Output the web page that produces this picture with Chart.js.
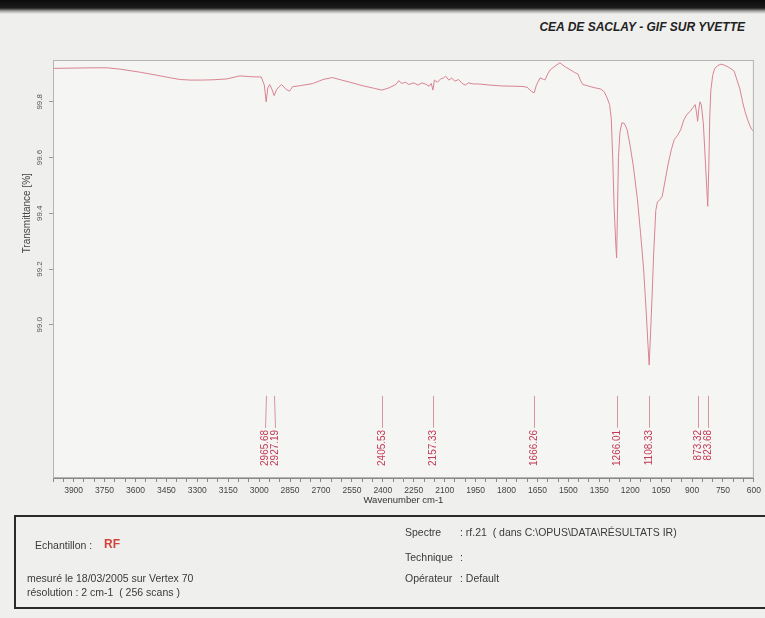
<!DOCTYPE html>
<html>
<head>
<meta charset="utf-8">
<script src="https://cdn.jsdelivr.net/npm/chart.js@4.4.0/dist/chart.umd.min.js"></script>
<style>
  html, body { margin: 0; padding: 0; }
  body {
    width: 765px; height: 618px; position: relative; overflow: hidden;
    background: #efefed; font-family: "Liberation Sans", Arial, sans-serif; color: #3a3a3a;
  }
  #scanTop {
    position: absolute; left: 0; top: 0; width: 765px; height: 14px;
    background: linear-gradient(#0b0b0b 0, #1c1c1c 8px, rgba(70,70,70,0.45) 11px, rgba(239,239,237,0) 14px);
  }
  #lab { position: absolute; right: 20px; top: 20px; font-weight: bold; font-style: italic; font-size: 12px; color: #222; }
  #spectrum { position: absolute; left: 0; top: 0; }
  #infoBox { position: absolute; left: 14px; top: 515px; width: 770px; height: 90px; border: 2px solid #2a2a2a; }
  .t { position: absolute; font-size: 10.5px; line-height: 12px; white-space: pre; color: #3a3a3a; }
  .rf { font-size: 12px; font-weight: bold; color: #d0443a; }
</style>
</head>
<body>
<div id="scanTop"></div>
<div id="lab">CEA DE SACLAY - GIF SUR YVETTE</div>
<canvas id="spectrum" width="765" height="618"></canvas>
<div id="infoBox"></div>
<div class="t" style="left:35px;top:539px;">Echantillon :</div>
<div class="t rf" style="left:104px;top:538px;">RF</div>
<div class="t" style="left:27px;top:572px;">mesuré le 18/03/2005 sur Vertex 70</div>
<div class="t" style="left:27px;top:586px;">résolution : 2 cm-1  ( 256 scans )</div>
<div class="t" style="left:405px;top:526px;">Spectre</div>
<div class="t" style="left:460px;top:526px;">: rf.21  ( dans C:\OPUS\DATA\RÉSULTATS IR)</div>
<div class="t" style="left:405px;top:551px;">Technique</div>
<div class="t" style="left:460px;top:551px;">:</div>
<div class="t" style="left:405px;top:572px;">Opérateur</div>
<div class="t" style="left:460px;top:572px;">: Default</div>

<script>
// spectrum (wavenumber cm-1, transmittance %)
const wavenumbers = [
  3995, 3900, 3800, 3736, 3673, 3576, 3494, 3430, 3383, 3335, 3280, 3224, 3157, 3094, 3040, 2990,
  2975, 2966, 2958, 2949, 2938, 2927, 2915, 2891, 2870, 2853, 2838, 2800, 2742, 2690, 2645, 2600,
  2563, 2500, 2440, 2405, 2370, 2337, 2322, 2310, 2290, 2274, 2250, 2230, 2210, 2192, 2175, 2165,
  2157, 2150, 2135, 2120, 2105, 2095, 2080, 2066, 2050, 2033, 2015, 2000, 1985, 1960, 1936, 1880,
  1825, 1770, 1720, 1700, 1680, 1666, 1655, 1637, 1620, 1613, 1600, 1589, 1565, 1541, 1515, 1488,
  1470, 1454, 1440, 1430, 1410, 1391, 1370, 1343, 1325, 1310, 1300, 1292, 1285, 1278, 1270, 1266,
  1262, 1257, 1250, 1240, 1228, 1215, 1200, 1185, 1165, 1150, 1135, 1122, 1114, 1108, 1102, 1094,
  1086, 1076, 1068, 1055, 1045, 1030, 1015, 1000, 986, 970, 955, 940, 925, 910, 895, 885,
  878, 873, 868, 862, 855, 845, 835, 828, 824, 819, 814, 809, 800, 790, 775, 760,
  745, 725, 710, 696, 685, 668, 655, 643, 630, 620, 610, 603
];
const transmittance = [
  99.920, 99.921, 99.922, 99.922, 99.917, 99.906, 99.895, 99.886, 99.880, 99.878, 99.878, 99.879, 99.882, 99.893, 99.890, 99.889,
  99.860, 99.800, 99.850, 99.862, 99.845, 99.822, 99.845, 99.862, 99.845, 99.838, 99.854, 99.858, 99.865, 99.880, 99.887, 99.878,
  99.871, 99.858, 99.848, 99.842, 99.850, 99.862, 99.876, 99.866, 99.870, 99.862, 99.868, 99.860, 99.868, 99.863, 99.856, 99.866,
  99.842, 99.878, 99.870, 99.882, 99.886, 99.892, 99.878, 99.885, 99.874, 99.880, 99.866, 99.860, 99.868, 99.864, 99.864, 99.860,
  99.857, 99.856, 99.855, 99.852, 99.838, 99.832, 99.860, 99.886, 99.880, 99.879, 99.900, 99.914, 99.928, 99.940, 99.925, 99.914,
  99.905, 99.900, 99.875, 99.862, 99.858, 99.854, 99.850, 99.846, 99.835, 99.810, 99.790, 99.740, 99.600, 99.420, 99.290, 99.240,
  99.400, 99.600, 99.690, 99.725, 99.722, 99.700, 99.640, 99.570, 99.450, 99.330, 99.200, 99.040, 98.930, 98.855, 98.960, 99.100,
  99.260, 99.410, 99.440, 99.450, 99.460, 99.520, 99.580, 99.630, 99.665, 99.680, 99.700, 99.735, 99.755, 99.765, 99.780, 99.790,
  99.760, 99.730, 99.770, 99.800, 99.790, 99.720, 99.580, 99.480, 99.425, 99.560, 99.750, 99.840, 99.895, 99.920, 99.930, 99.935,
  99.932, 99.925, 99.918, 99.910, 99.885, 99.846, 99.800, 99.764, 99.735, 99.715, 99.700, 99.695
];
const peakPositions = [2965.68, 2927.19, 2405.53, 2157.33, 1666.26, 1266.01, 1108.33, 873.32, 823.68];
const yTickValues = [99.0, 99.2, 99.4, 99.6, 99.8];

const xMin = 600, xMax = 4000;
const yMin = 98.45, yMax = 99.95;
// peak marker stems live below the spectrum, in transmittance units
const stemTop = 98.745, stemBottom = 98.63;

const curveColor = 'rgb(218,132,144)';
const peakColor = 'rgb(196,58,84)';
const fontFamily = '"Liberation Sans", Arial, sans-serif';

const decorations = {
  id: 'decorations',
  beforeDraw(chart) {
    const { ctx, chartArea: a } = chart;
    ctx.save();
    ctx.fillStyle = '#f5f5f4';
    ctx.fillRect(a.left, a.top, a.width, a.height);
    ctx.restore();
  },
  afterDraw(chart) {
    const { ctx, chartArea: a, scales: { x, y } } = chart;
    ctx.save();
    ctx.strokeStyle = '#b4b4b4';
    ctx.lineWidth = 1;
    ctx.strokeRect(a.left + 0.5, a.top + 0.5, a.width - 1, a.height - 1);

    // rotated y tick labels
    ctx.fillStyle = '#555';
    ctx.font = '8px ' + fontFamily;
    ctx.textAlign = 'center';
    ctx.textBaseline = 'middle';
    yTickValues.forEach(v => {
      ctx.save();
      ctx.translate(40, y.getPixelForValue(v));
      ctx.rotate(-Math.PI / 2);
      ctx.fillText(v.toFixed(1), 0, 0);
      ctx.restore();
    });

    // y title, centred on the labelled range
    const yMid = (y.getPixelForValue(yTickValues[0]) + y.getPixelForValue(yTickValues[yTickValues.length - 1])) / 2;
    ctx.save();
    ctx.translate(27, yMid);
    ctx.rotate(-Math.PI / 2);
    ctx.fillStyle = '#444';
    ctx.font = '10px ' + fontFamily;
    ctx.fillText('Transmittance [%]', 0, 0);
    ctx.restore();

    // peak picks: spread labels that would collide, stems bend towards them
    const y1 = y.getPixelForValue(stemTop);
    const y2 = y.getPixelForValue(stemBottom);
    const minGap = 10;
    const stems = peakPositions.map(p => x.getPixelForValue(p));
    const spots = stems.slice();
    for (let i = 1; i < spots.length; i++) {
      const gap = spots[i] - spots[i - 1];
      if (gap < minGap) {
        const push = (minGap - gap) / 2;
        spots[i - 1] -= push;
        spots[i] += push;
      }
    }
    ctx.font = '10px ' + fontFamily;
    ctx.textAlign = 'right';
    peakPositions.forEach((p, i) => {
      const px = Math.round(stems[i]) + 0.5;
      const lx = Math.round(spots[i]) + 0.5;
      ctx.strokeStyle = 'rgb(214,150,160)';
      ctx.beginPath();
      ctx.moveTo(px, y1);
      ctx.lineTo(lx, y2);
      ctx.stroke();
      ctx.save();
      ctx.translate(lx, y2 + 2);
      ctx.rotate(-Math.PI / 2);
      ctx.fillStyle = peakColor;
      ctx.fillText(p.toFixed(2), 0, 0);
      ctx.restore();
    });
    ctx.restore();
  }
};

new Chart(document.getElementById('spectrum'), {
  type: 'line',
  data: {
    datasets: [{
      data: wavenumbers.map((w, i) => ({ x: w, y: transmittance[i] })),
      borderColor: curveColor,
      borderWidth: 1,
      pointRadius: 0,
      tension: 0,
      fill: false
    }]
  },
  options: {
    responsive: false,
    animation: false,
    devicePixelRatio: 1,
    layout: { padding: { top: 60, right: 8, left: 0, bottom: 0 } },
    plugins: { legend: { display: false }, tooltip: { enabled: false } },
    scales: {
      x: {
        type: 'linear',
        reverse: true,
        min: xMin,
        max: xMax,
        afterFit: s => { s.height = 140; },
        border: { color: '#888' },
        grid: { drawOnChartArea: false, tickLength: 4, color: '#888' },
        ticks: {
          stepSize: 50,
          autoSkip: false,
          maxRotation: 0,
          padding: 4,
          color: '#444',
          font: { size: 8.5, family: fontFamily },
          callback: v => (v % 150 === 0 ? String(v) : '')
        },
        title: {
          display: true,
          text: 'Wavenumber cm-1',
          color: '#333',
          font: { size: 9.5, family: fontFamily },
          padding: { top: 0, bottom: 112 }
        }
      },
      y: {
        type: 'linear',
        min: yMin,
        max: yMax,
        afterFit: s => { s.width = 53; },
        afterBuildTicks: s => { s.ticks = yTickValues.map(v => ({ value: v })); },
        border: { color: '#999' },
        grid: { drawOnChartArea: false, tickLength: 4, color: '#999' },
        ticks: { display: false },
        title: { display: false }
      }
    }
  },
  plugins: [decorations]
});
</script>
</body>
</html>
